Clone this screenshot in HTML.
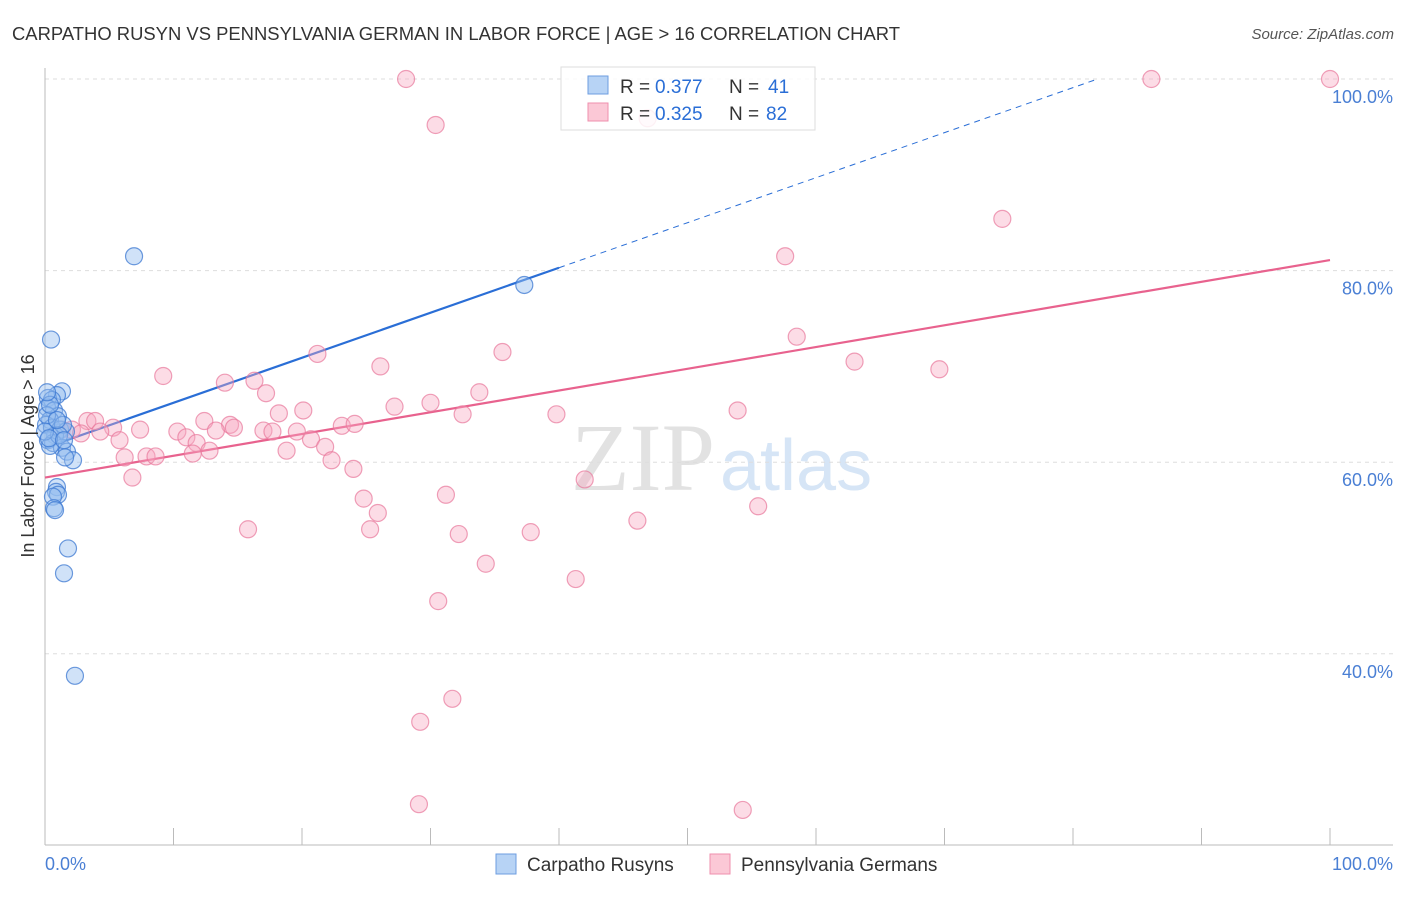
<!DOCTYPE html>
<html><head><meta charset="utf-8"><style>
body{margin:0;background:#fff;font-family:"Liberation Sans",sans-serif}
</style></head><body>
<svg id="c" width="1406" height="892" xmlns="http://www.w3.org/2000/svg" font-family="Liberation Sans, sans-serif">
<text x="12" y="40" font-size="18" fill="#333" textLength="888" lengthAdjust="spacingAndGlyphs">CARPATHO RUSYN VS PENNSYLVANIA GERMAN IN LABOR FORCE | AGE &gt; 16 CORRELATION CHART</text>
<text x="1394" y="39" font-size="15" font-style="italic" fill="#555" text-anchor="end">Source: ZipAtlas.com</text>
<text x="715" y="490" font-size="96" fill="#e2e2e2" text-anchor="end" font-family="Liberation Serif, serif">ZIP</text>
<text x="720" y="490" font-size="72" fill="#d6e5f6">atlas</text>
<g id="grid"></g><g id="axes"></g><g id="lines"></g><g id="pts"></g>
<text transform="translate(34,456) rotate(-90)" font-size="18" fill="#333" text-anchor="middle">In Labor Force | Age &gt; 16</text>
<text x="45" y="870" font-size="18" fill="#4a7fd4">0.0%</text>
<text x="1393" y="870" font-size="18" fill="#4a7fd4" text-anchor="end">100.0%</text>
<g>
<rect x="561" y="67" width="254" height="63" fill="#fff" fill-opacity="0.85" stroke="#ddd"/>
<rect x="588" y="76" width="20" height="18" fill="#b7d3f5" stroke="#6e9ee0"/>
<rect x="588" y="103" width="20" height="18" fill="#fbc8d6" stroke="#ef8fae"/>
<text x="620" y="93" font-size="19" fill="#333">R =</text><text x="655" y="93" font-size="19" fill="#2a6ed6">0.377</text>
<text x="729" y="93" font-size="19" fill="#333">N =</text><text x="768" y="93" font-size="19" fill="#2a6ed6">41</text>
<text x="620" y="120" font-size="19" fill="#333">R =</text><text x="655" y="120" font-size="19" fill="#2a6ed6">0.325</text>
<text x="729" y="120" font-size="19" fill="#333">N =</text><text x="766" y="120" font-size="19" fill="#2a6ed6">82</text>
</g>
<g>
<rect x="496" y="854" width="20" height="20" fill="#b7d3f5" stroke="#6e9ee0"/>
<text x="527" y="871" font-size="19" fill="#333">Carpatho Rusyns</text>
<rect x="710" y="854" width="20" height="20" fill="#fbc8d6" stroke="#ef8fae"/>
<text x="741" y="871" font-size="19" fill="#333">Pennsylvania Germans</text>
</g>
</svg>
<script>
const yTicks=[100,80,60,40];
const blueX=[0.47,1.32,0.93,0.23,0.54,0.16,0.70,1.01,0.39,0.08,0.54,1.17,1.63,0.78,0.23,0.62,1.32,1.71,0.39,2.18,1.56,0.93,0.86,1.01,0.62,0.70,0.78,1.79,1.48,2.33,6.93,37.3,0.16,1.40,1.09,0,0.31,0.93,1.48,0.39,0.16];
const blueY=[72.8,67.4,67.0,66.7,66.5,65.7,65.4,64.8,64.4,63.9,63.6,63.4,63.2,62.8,62.3,62.0,61.5,61.1,61.7,60.2,60.5,57.4,56.9,56.6,56.4,55.2,55.0,51.0,48.4,37.7,81.5,78.5,64.9,63.9,62.8,63.2,62.5,64.4,62.3,66.0,67.3];
const pinkX=[28.1,86.1,100,30.4,46.9,74.5,57.6,58.5,21.2,35.6,63.0,26.1,69.6,9.2,14.0,16.3,33.8,17.2,27.2,30.0,20.1,18.2,53.9,39.8,32.5,3.3,3.9,12.4,14.4,14.7,5.3,7.4,1.3,2.1,2.8,4.3,10.3,13.3,17.0,17.7,19.6,23.1,24.1,11.0,20.7,5.8,11.8,21.8,18.8,12.8,11.5,7.9,6.2,8.6,22.3,24.0,6.8,42.0,31.2,24.8,25.9,55.5,46.1,15.8,25.3,32.2,37.8,34.3,41.3,30.6,31.7,29.2,29.1,54.3];
const pinkY=[100,100,100,95.2,95.9,85.4,81.5,73.1,71.3,71.5,70.5,70.0,69.7,69.0,68.3,68.5,67.3,67.2,65.8,66.2,65.4,65.1,65.4,65.0,65.0,64.3,64.3,64.3,63.9,63.6,63.6,63.4,63.4,63.4,63.0,63.2,63.2,63.3,63.3,63.2,63.2,63.8,64.0,62.6,62.4,62.3,62.0,61.6,61.2,61.2,60.9,60.6,60.5,60.6,60.2,59.3,58.4,58.2,56.6,56.2,54.7,55.4,53.9,53.0,53.0,52.5,52.7,49.4,47.8,45.5,35.3,32.9,24.3,23.7];
const blueTrend=[61.5,0.47], blueSolidEnd=40, blueDashEnd=81.7;
const pinkTrend=[58.4,0.227];
const sx=v=>45+v*12.85, sy=v=>79+(100-v)*9.58;
const NS="http://www.w3.org/2000/svg";
function mk(t,a,p){const e=document.createElementNS(NS,t);for(const k in a)e.setAttribute(k,a[k]);document.getElementById(p).appendChild(e);return e;}
yTicks.forEach(t=>{
 const l=mk('line',{x1:45,x2:1393,y1:sy(t),y2:sy(t),stroke:'#ddd','stroke-dasharray':'4,4'},'grid');
 
 
 const tx=mk('text',{x:1393,y:sy(t)+24,'font-size':18,fill:'#4a7fd4','text-anchor':'end'},'grid');
 tx.textContent=t.toFixed(1)+'%';
 
 
});
let a=mk('line',{x1:45,x2:1393,y1:845,y2:845,stroke:'#bbb'},'axes');


a=mk('line',{x1:45,x2:45,y1:68,y2:845,stroke:'#bbb'},'axes');


for(let k=1;k<=10;k++){const t=mk('line',{x1:sx(k*10),x2:sx(k*10),y1:828,y2:845,stroke:'#bbb'},'axes');
 
 }
pinkX.forEach((x,i)=>{const c=mk('circle',{cx:sx(x),cy:sy(pinkY[i]),r:8.5,fill:'rgba(247,168,192,0.4)',stroke:'rgba(232,120,155,0.7)','stroke-width':1.2},'pts');
 
 });
blueX.forEach((x,i)=>{const c=mk('circle',{cx:sx(x),cy:sy(blueY[i]),r:8.5,fill:'rgba(150,190,240,0.45)',stroke:'rgba(60,120,210,0.75)','stroke-width':1.2},'pts');
 
 });
const by=x=>blueTrend[0]+blueTrend[1]*x, py=x=>pinkTrend[0]+pinkTrend[1]*x;
let L=mk('line',{x1:sx(0),y1:sy(by(0)),x2:sx(blueSolidEnd),y2:sy(by(blueSolidEnd)),stroke:'#2a6ed6','stroke-width':2.2},'lines');


L=mk('line',{x1:sx(blueSolidEnd),y1:sy(by(blueSolidEnd)),x2:sx(blueDashEnd),y2:sy(by(blueDashEnd)),stroke:'#2a6ed6','stroke-width':1,'stroke-dasharray':'6,5'},'lines');


L=mk('line',{x1:sx(0),y1:sy(py(0)),x2:sx(100),y2:sy(py(100)),stroke:'#e8628e','stroke-width':2.2},'lines');


</script>
</body></html>
